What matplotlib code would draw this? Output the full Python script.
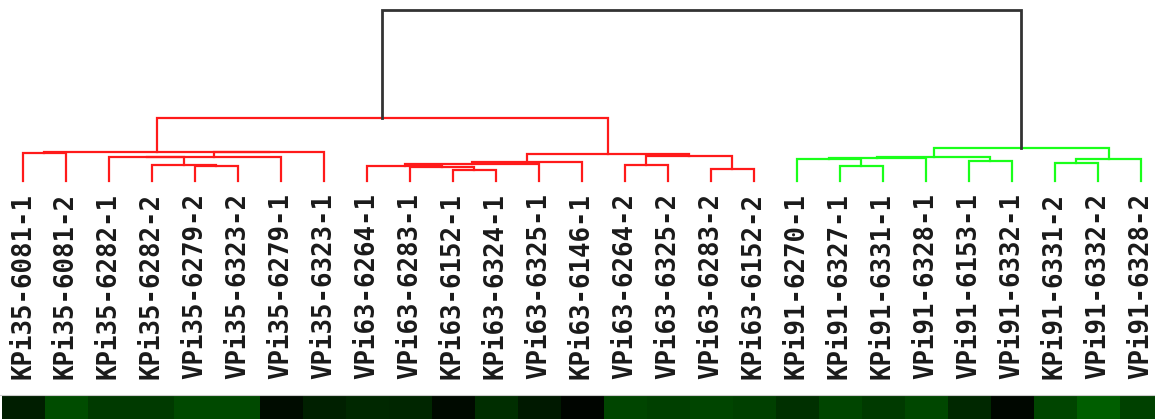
import matplotlib.pyplot as plt
import numpy as np
from matplotlib.colors import LinearSegmentedColormap

# samples in dendrogram leaf order
labels = ['KPi35-6081-1', 'KPi35-6081-2', 'KPi35-6282-1', 'KPi35-6282-2',
          'VPi35-6279-2', 'VPi35-6323-2', 'VPi35-6279-1', 'VPi35-6323-1',
          'VPi63-6264-1', 'VPi63-6283-1', 'KPi63-6152-1', 'KPi63-6324-1',
          'VPi63-6325-1', 'KPi63-6146-1', 'VPi63-6264-2', 'VPi63-6325-2',
          'VPi63-6283-2', 'KPi63-6152-2',
          'KPi91-6270-1', 'KPi91-6327-1', 'KPi91-6331-1', 'VPi91-6328-1',
          'VPi91-6153-1', 'VPi91-6332-1', 'KPi91-6331-2', 'VPi91-6332-2',
          'VPi91-6328-2']
group = ['r'] * 18 + ['g'] * 9

# expression level shown in the strip under the labels
expr = [0.12, 0.30, 0.23, 0.23, 0.29, 0.29, 0.05, 0.13, 0.16, 0.15,
        0.04, 0.18, 0.10, 0.02, 0.27, 0.25, 0.27, 0.25, 0.19, 0.27,
        0.23, 0.28, 0.16, 0.03, 0.27, 0.37, 0.26]

# linkage: ids < 27 are leaves, id 27+k is the k-th merge
merge_left = [4, 3, 2, 29, 0, 30, 31,
              10, 9, 8, 36, 37, 14, 16, 39, 38, 33,
              19, 18, 45, 22, 46, 24, 49, 48, 43]
merge_right = [5, 27, 28, 6, 1, 7, 32,
               11, 34, 35, 12, 13, 15, 17, 40, 41, 42,
               20, 44, 21, 23, 47, 25, 26, 50, 51]
merge_height = [0.088, 0.091, 0.142, 0.143, 0.165, 0.167, 0.168,
                0.064, 0.082, 0.088, 0.102, 0.113, 0.091, 0.073, 0.148, 0.158, 0.368,
                0.088, 0.126, 0.135, 0.117, 0.142, 0.104, 0.127, 0.196, 1.0]

line_cols = {'r': '#ff1a1a', 'g': '#1aff1a', 'k': '#333333'}

n = len(labels)
xpos = [float(i) for i in range(n)]
hpos = [0.0] * n
grp = list(group)

fig = plt.figure(figsize=(11.55, 4.19), dpi=100)
ax = fig.add_axes([0, 0.568, 1, 0.408])

for l, r, h in zip(merge_left, merge_right, merge_height):
    c = grp[l] if grp[l] == grp[r] else 'k'
    ax.plot([xpos[l], xpos[l], xpos[r], xpos[r]], [hpos[l], h, h, hpos[r]],
            color=line_cols[c], lw=1.6 if c != 'k' else 2.0,
            solid_joinstyle='miter', clip_on=False)
    xpos.append((xpos[l] + xpos[r]) / 2)
    hpos.append(h)
    grp.append(c)

xlim = (-0.535, 26.33)
ax.set_xlim(*xlim)
ax.set_ylim(0, 1)
ax.set_yticks([])
ax.set_xticks(range(n))
ax.set_xticklabels(labels, rotation=90, family='DejaVu Sans Mono',
                   fontsize=18.5, fontweight='bold', color='#1a1a1a')
ax.tick_params(axis='x', length=0, pad=8.6)
for s in ax.spines.values():
    s.set_visible(False)

# expression strip
cmap = LinearSegmentedColormap.from_list('bg', ['#000000', '#00ff00'])
hx = fig.add_axes([0, 0, 1, 24 / 419])
hx.imshow(np.array(expr)[None, :], cmap=cmap, vmin=0, vmax=1, aspect='auto',
          extent=(-0.5, n - 0.5, 0, 1), interpolation='nearest')
hx.set_xlim(*xlim)
hx.set_xticks([])
hx.set_yticks([])
for s in hx.spines.values():
    s.set_visible(False)
hx.spines['top'].set_visible(True)
hx.spines['top'].set_color('#cccccc')

fig.savefig('out.png', dpi=100)
